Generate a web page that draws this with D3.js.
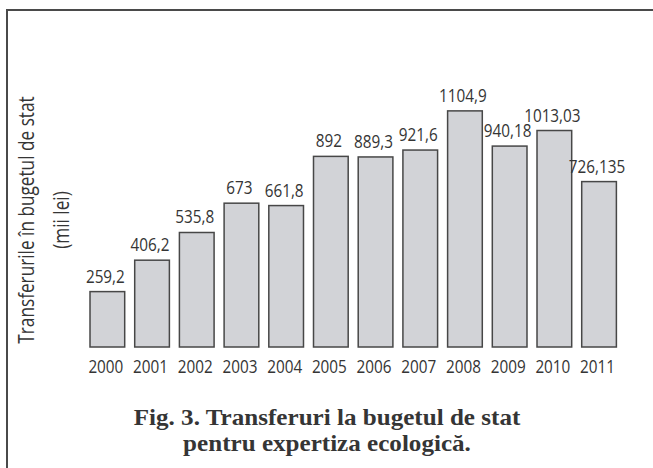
<!DOCTYPE html>
<html>
<head>
<meta charset="utf-8">
<script src="https://cdn.jsdelivr.net/npm/d3@7"></script>
<style>
  html, body { margin: 0; padding: 0; background: #fff; }
  svg { display: block; }
</style>
</head>
<body>
<svg id="chart" width="653" height="468"></svg>
<script>
const years = ["2000","2001","2002","2003","2004","2005","2006","2007","2008","2009","2010","2011"];
const values = [259.2, 406.2, 535.8, 673, 661.8, 892, 889.3, 921.6, 1104.9, 940.18, 1013.03, 774];
const valueLabels = ["259,2","406,2","535,8","673","661,8","892","889,3","921,6","1104,9","940,18","1013,03","726,135"];
const yTitleLines = ["Transferurile în bugetul de stat", "(mii lei)"];
const captionLines = ["Fig. 3. Transferuri la bugetul de stat", "pentru expertiza ecologică."];

const svg = d3.select("#chart");
const ink = "#353535";
const numFont = "'Open Sans', sans-serif";
const squeeze = 0.85;

// frame
svg.append("rect")
  .attr("x", 7).attr("y", 10).attr("width", 700).attr("height", 500)
  .attr("fill", "none").attr("stroke", "#4a4a4a").attr("stroke-width", 2);

const x = d3.scaleBand().domain(years).range([85, 621.4]).paddingInner(0.224).paddingOuter(0.112);
const y = d3.scaleLinear().domain([0, 1200]).range([347, 347 - 1200 * 0.2137]);

svg.append("g").selectAll("rect").data(years).join("rect")
  .attr("x", d => x(d))
  .attr("y", (d, i) => y(values[i]))
  .attr("width", x.bandwidth())
  .attr("height", (d, i) => y(0) - y(values[i]))
  .attr("fill", "#d2d3d7")
  .attr("stroke", "#474747")
  .attr("stroke-width", 1.5);

svg.append("g").selectAll("text").data(years).join("text")
  .attr("transform", (d, i) => `translate(${x(d) + x.bandwidth() / 2 - 2},${y(values[i]) - 9}) scale(${squeeze},1)`)
  .attr("text-anchor", "middle")
  .attr("font-family", numFont)
  .attr("font-size", 18)
  .attr("fill", ink)
  .text((d, i) => valueLabels[i]);

const xAxis = d3.axisBottom(x).tickSize(0).tickPadding(0);
const gx = svg.append("g").attr("transform", "translate(-1.5,360)").call(xAxis);
gx.select(".domain").remove();
gx.selectAll("text")
  .attr("font-family", numFont).attr("font-size", 18).attr("fill", ink)
  .attr("transform", `scale(${squeeze},1)`);

const yt = svg.append("text")
  .attr("transform", "translate(34,220) rotate(-90) scale(0.82,1)")
  .attr("text-anchor", "middle")
  .attr("font-family", numFont)
  .attr("font-size", 21)
  .attr("fill", ink);
yt.append("tspan").attr("x", 0).attr("y", 0).text(yTitleLines[0]);
yt.append("tspan").attr("x", 0).attr("y", 35).text(yTitleLines[1]);

svg.append("g").selectAll("text").data(captionLines).join("text")
  .attr("transform", (d, i) => `translate(327,${425 + i * 26}) scale(1.046,1)`)
  .attr("text-anchor", "middle")
  .attr("font-family", "'Liberation Serif', serif")
  .attr("font-weight", "bold")
  .attr("font-size", 24)
  .attr("fill", ink)
  .text(d => d);
</script>
</body>
</html>
